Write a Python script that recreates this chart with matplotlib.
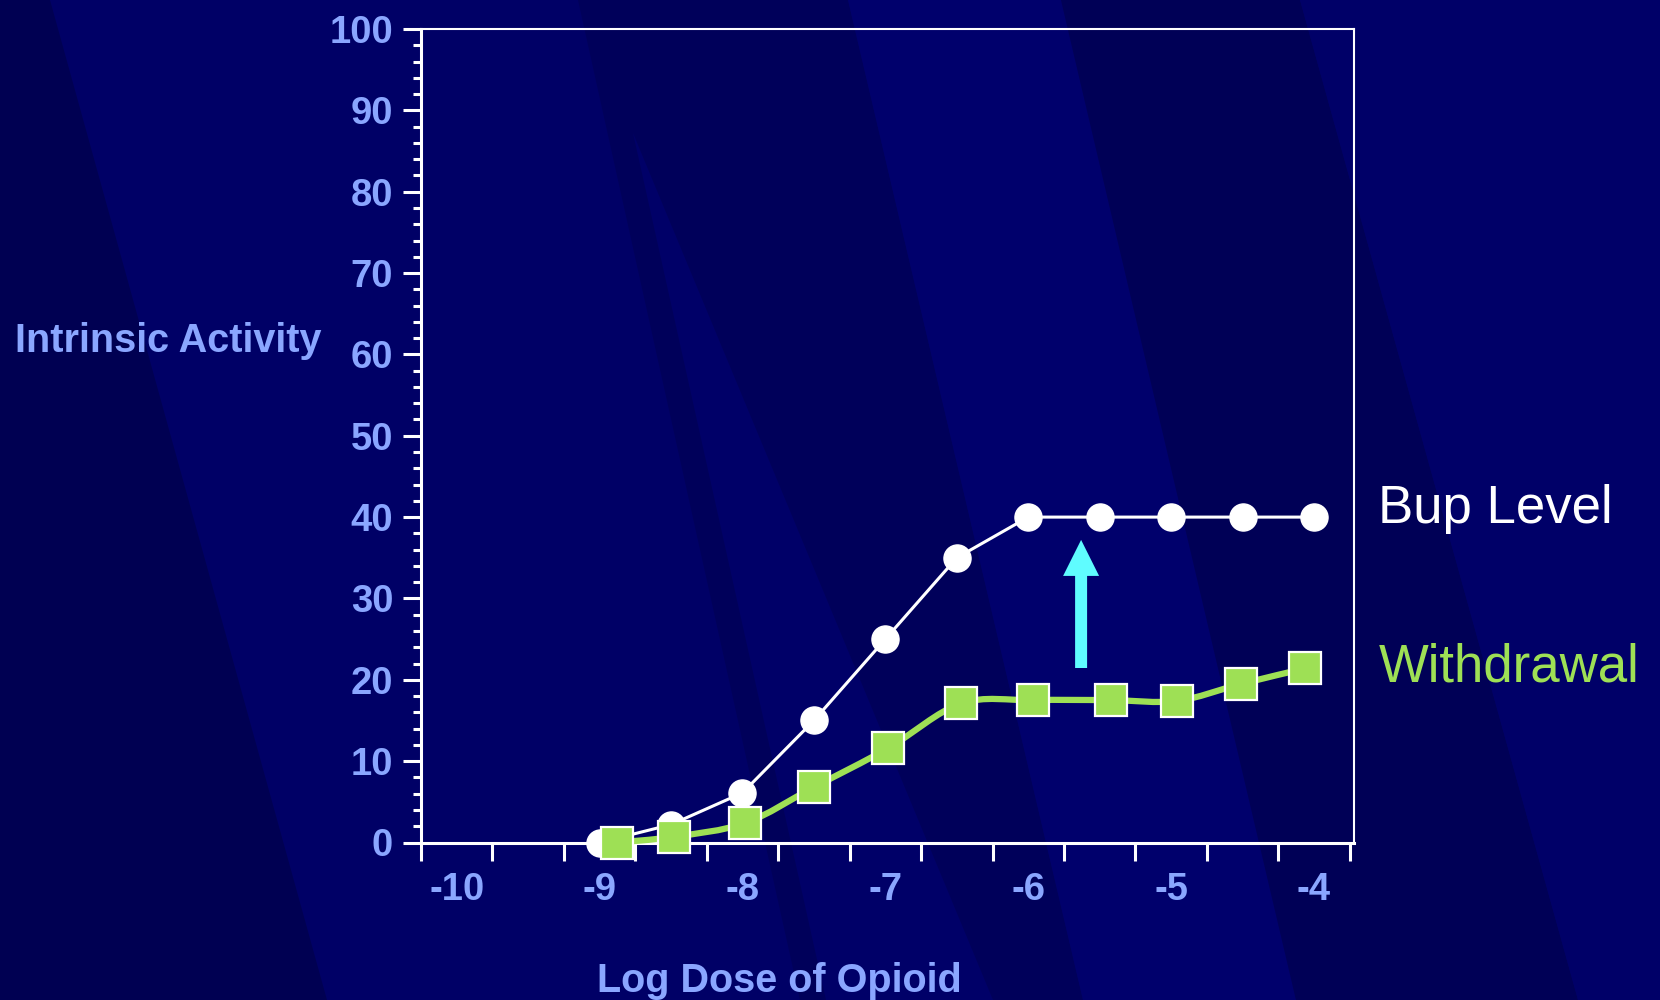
import numpy as np
import matplotlib
matplotlib.use("Agg")
import matplotlib.pyplot as plt
from matplotlib.patches import Polygon, Rectangle, FancyArrow, PathPatch
from matplotlib.path import Path

plt.rcParams["font.family"] = ["Liberation Sans", "DejaVu Sans"]

# ---- data ------------------------------------------------------------------
bup_dose = [-9.0, -8.5, -8.0, -7.5, -7.0, -6.5, -6.0, -5.5, -5.0, -4.5, -4.0]
bup_activity = [0, 2.2, 6.1, 15, 25, 35, 40, 40, 40, 40, 40]

wd_dose = [-8.88, -8.48, -7.98, -7.5, -6.98, -6.47, -5.97, -5.42, -4.96, -4.51, -4.06]
wd_activity = [0, 0.7, 2.4, 6.8, 11.6, 17.1, 17.5, 17.5, 17.4, 19.5, 21.4]

x_label_pos = [-10, -9, -8, -7, -6, -5, -4]
x_labels = ["-10", "-9", "-8", "-7", "-6", "-5", "-4"]
y_ticks = [0, 10, 20, 30, 40, 50, 60, 70, 80, 90, 100]
y_labels = [str(v) for v in y_ticks]

shift_x = -5.63
shift_from, shift_to = 21.45, 37.2

LABEL_BLUE = "#8aa6ff"
GREEN = "#9ee055"
CYAN = "#5ffcff"

fig = plt.figure(figsize=(16.6, 10), dpi=100, facecolor="#000066")

# ---- slide background (pixel coordinates, y down) -------------------------
bg = fig.add_axes([0, 0, 1, 1])
bg.set_xlim(0, 1660)
bg.set_ylim(1000, 0)
bg.axis("off")
bg.add_patch(Rectangle((0, 0), 1660, 1000, color="#000066", lw=0))
bg.add_patch(Polygon([(0, 0), (50, 0), (327, 1000), (0, 1000)], closed=True, color="#000052", lw=0))
bg.add_patch(Polygon([(578, 0), (848, 0), (1083, 1000), (800, 1000)], closed=True, color="#00005a", lw=0))
bg.add_patch(Polygon([(633, 133), (827, 600), (993, 1000), (826, 1000)], closed=True, color="#000068", lw=0))
bg.add_patch(Polygon([(848, 0), (1061, 0), (1296, 1000), (1083, 1000)], closed=True, color="#00006c", lw=0))
bg.add_patch(Polygon([(1061, 0), (1300, 0), (1578, 1000), (1296, 1000)], closed=True, color="#000056", lw=0))
bg.add_patch(Polygon([(1300, 0), (1660, 0), (1660, 1000), (1578, 1000)], closed=True, color="#000068", lw=0))

# ---- main axes --------------------------------------------------------------
ax = fig.add_axes([421 / 1660, 1 - 842.5 / 1000, (1354 - 421) / 1660, (842.5 - 29) / 1000])
ax.patch.set_alpha(0)
ax.set_xlim(-10.25, -3.72)
ax.set_ylim(0, 100)

for side in ["left", "bottom"]:
    ax.spines[side].set_color("white")
    ax.spines[side].set_linewidth(2.2)
for side in ["top", "right"]:
    ax.spines[side].set_color("white")
    ax.spines[side].set_linewidth(1.5)

ax.set_yticks(y_ticks)
ax.set_yticklabels(y_labels, fontweight="bold")
ax.set_yticks(np.arange(0, 101, 2), minor=True)
ax.tick_params(axis="y", which="major", direction="out", length=13, width=2.2, color="white",
               labelcolor=LABEL_BLUE, labelsize=27.5, pad=7)
ax.tick_params(axis="y", which="minor", direction="out", length=6, width=2.2, color="white")

ax.set_xticks(x_label_pos)
ax.set_xticklabels(x_labels, fontweight="bold")
ax.set_xticks(np.arange(-10.25, -3.74, 0.5), minor=True)
ax.tick_params(axis="x", which="major", length=0, labelcolor=LABEL_BLUE, labelsize=27.5, pad=21)
ax.tick_params(axis="x", which="minor", direction="out", length=13, width=2.2, color="white")

# bup curve: straight segments
ax.plot(bup_dose, bup_activity, color="white", lw=2.2, zorder=3, clip_on=False)
ax.plot(bup_dose, bup_activity, ls="none", marker="o", ms=19.5, mfc="white", mec="white",
        zorder=4, clip_on=False)

# withdrawal curve: smoothed through the points (Catmull-Rom as cubic Beziers)
pts = np.column_stack([wd_dose, wd_activity])
ext = np.vstack([pts[0], pts, pts[-1]])
verts = [tuple(pts[0])]
codes = [Path.MOVETO]
for i in range(1, len(ext) - 2):
    p0, p1, p2, p3 = ext[i - 1], ext[i], ext[i + 1], ext[i + 2]
    verts += [tuple(p1 + (p2 - p0) / 6), tuple(p2 - (p3 - p1) / 6), tuple(p2)]
    codes += [Path.CURVE4] * 3
ax.add_patch(PathPatch(Path(verts, codes), fill=False, edgecolor=GREEN, lw=4.5,
                       capstyle="round", zorder=5, clip_on=False))
ax.plot(wd_dose, wd_activity, ls="none", marker="s", ms=23, mfc=GREEN, mec="white", mew=1.6,
        zorder=6, clip_on=False)

# upward shift arrow
ax.add_patch(FancyArrow(shift_x, shift_from, 0, shift_to - shift_from, width=0.084,
                        head_width=0.252, head_length=4.43, length_includes_head=True,
                        color=CYAN, lw=0, zorder=7))

# ---- labels -----------------------------------------------------------------
fig.text(15 / 1660, 1 - 352 / 1000, "Intrinsic Activity", color=LABEL_BLUE, fontsize=28.5,
         fontweight="bold", ha="left", va="baseline")
fig.text(779 / 1660, 1 - 992 / 1000, "Log Dose of Opioid", color=LABEL_BLUE, fontsize=28.5,
         fontweight="bold", ha="center", va="baseline")
fig.text(1378 / 1660, 1 - 523 / 1000, "Bup Level", color="white", fontsize=38,
         ha="left", va="baseline")
fig.text(1379 / 1660, 1 - 682 / 1000, "Withdrawal", color=GREEN, fontsize=38,
         ha="left", va="baseline")

fig.savefig("out.png", dpi=100, facecolor=fig.get_facecolor())
